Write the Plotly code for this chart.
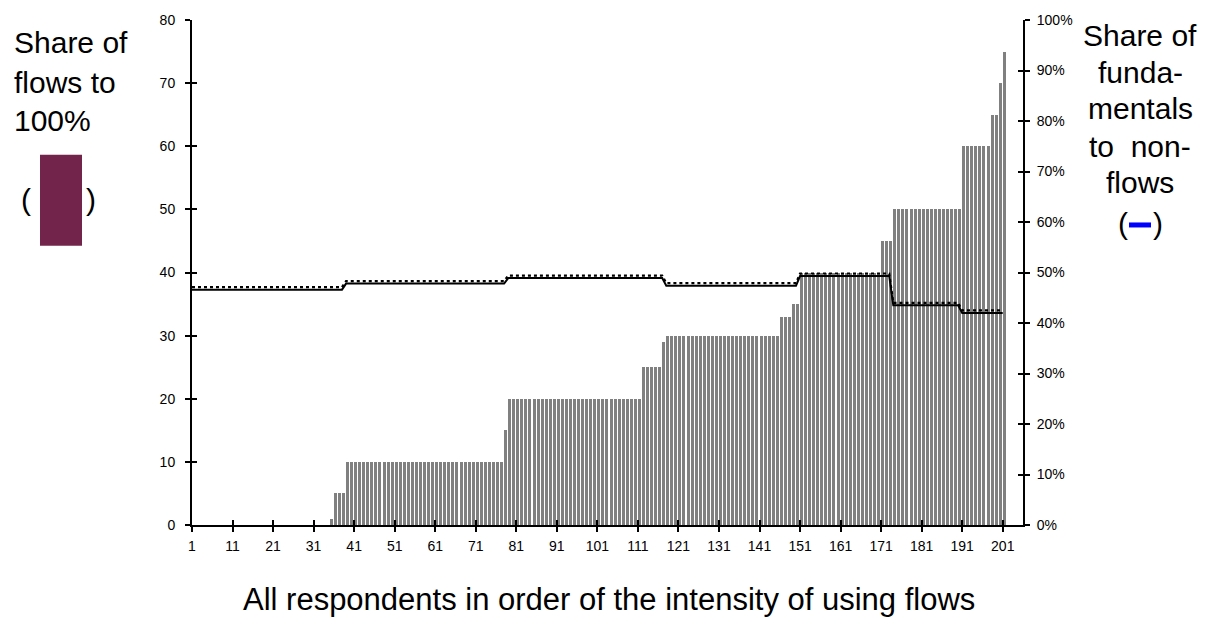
import plotly.graph_objects as go

# ---- data ----
# bar values (share of flows to 100%), run-length encoded: level, number of respondents
bar_levels = [0, 1, 5, 10, 15, 20, 25, 29, 30, 33, 35, 40, 45, 50, 60, 65, 70, 75]
bar_counts = [34, 1, 3, 39, 1, 33, 5, 1, 28, 3, 2, 20, 3, 17, 7, 2, 1, 1]

# line values (share of fundamentals to non-flows), run-length encoded
line_levels = [0.466, 0.478, 0.489, 0.474, 0.493, 0.435, 0.420]
line_dotted_levels = [0.471, 0.483, 0.494, 0.479, 0.498, 0.440, 0.425]
line_counts = [38, 40, 39, 33, 23, 17, 11]

x_tickvals = [1, 11, 21, 31, 41, 51, 61, 71, 81, 91, 101, 111, 121, 131, 141,
              151, 161, 171, 181, 191, 201]
y_tickvals = [0, 10, 20, 30, 40, 50, 60, 70, 80]
y2_tickvals = [0, 0.1, 0.2, 0.3, 0.4, 0.5, 0.6, 0.7, 0.8, 0.9, 1.0]


def expand(levels, counts):
    out = []
    for lv, c in zip(levels, counts):
        out.extend([lv] * c)
    return out


flows = expand(bar_levels, bar_counts)
fund = expand(line_levels, line_counts)
fund_dot = expand(line_dotted_levels, line_counts)
respondents = list(range(1, len(flows) + 1))

W, H = 1211, 622
L, R, T, B = 192, 188, 15, 97
PW = W - L - R
PH = H - T - B


def px(x):
    return (x - L) / PW


def py(y):
    return 1 - (y - T) / PH


FONT = "Liberation Sans, Arial, sans-serif"
X_RANGE = [1, 206]

fig = go.Figure()
fig.add_trace(go.Bar(x=respondents, y=flows, width=0.74, offset=0,
                     marker=dict(color="#808080", line=dict(width=0)),
                     showlegend=False, hoverinfo="x+y"))
fig.add_trace(go.Scatter(x=respondents, y=fund_dot, yaxis="y2", mode="lines",
                         line=dict(color="#000000", width=2.2, dash="dot"),
                         showlegend=False))
fig.add_trace(go.Scatter(x=respondents, y=fund, yaxis="y2", mode="lines",
                         line=dict(color="#000000", width=2),
                         showlegend=False))
# empty traces to activate overlay axes used for crossing tick marks
fig.add_trace(go.Scatter(x=[None], y=[None], xaxis="x2", yaxis="y3",
                         showlegend=False, hoverinfo="skip"))
fig.add_trace(go.Scatter(x=[None], y=[None], xaxis="x2", yaxis="y4",
                         showlegend=False, hoverinfo="skip"))

axis_common = dict(showgrid=False, zeroline=False, tickcolor="black",
                   tickwidth=2, ticklen=5)
TICKF = 14

fig.update_layout(
    width=W, height=H,
    margin=dict(l=L, r=R, t=T, b=B),
    paper_bgcolor="white", plot_bgcolor="white",
    font=dict(family=FONT, color="black", size=TICKF),
    bargap=0,
    xaxis=dict(range=X_RANGE, tickmode="array", tickvals=x_tickvals,
               ticks="outside", showline=True, linecolor="black", linewidth=2,
               ticklabelstandoff=2, tickfont=dict(size=TICKF), **axis_common),
    xaxis2=dict(range=X_RANGE, overlaying="x", anchor="y3", tickmode="array",
                tickvals=x_tickvals, ticks="inside", showticklabels=False,
                showline=False, **axis_common),
    yaxis=dict(range=[0, 80], tickmode="array", tickvals=y_tickvals,
               ticks="outside", showline=True, linecolor="black", linewidth=2,
               ticklabelstandoff=7, tickfont=dict(size=TICKF), **axis_common),
    yaxis2=dict(range=[0, 1], overlaying="y", side="right", anchor="x",
                tickmode="array", tickvals=y2_tickvals, tickformat=".0%",
                ticks="outside", showline=True, linecolor="black", linewidth=2,
                ticklabelstandoff=4, tickfont=dict(size=TICKF), **axis_common),
    yaxis3=dict(range=[0, 80], overlaying="y", anchor="x2", tickmode="array",
                tickvals=y_tickvals, ticks="inside", showticklabels=False,
                showline=False, **axis_common),
    yaxis4=dict(range=[0, 1], overlaying="y", side="right", anchor="x2",
                tickmode="array", tickvals=y2_tickvals, ticks="inside",
                showticklabels=False, showline=False, **axis_common),
)

ann = []
TITLE = 30
# left block
for txt, yc in [("Share of", 38), ("flows to", 78), ("100%", 117)]:
    ann.append(dict(text=txt, x=px(12), y=py(yc), xref="paper", yref="paper",
                    xanchor="left", yanchor="middle", showarrow=False,
                    font=dict(size=TITLE, family=FONT)))
ann.append(dict(text="(", x=px(26), y=py(196), xref="paper", yref="paper",
                xanchor="center", yanchor="middle", showarrow=False,
                font=dict(size=TITLE, family=FONT)))
ann.append(dict(text=")", x=px(91), y=py(196), xref="paper", yref="paper",
                xanchor="center", yanchor="middle", showarrow=False,
                font=dict(size=TITLE, family=FONT)))
# right block
for txt, yc in [("Share of", 31), ("funda-", 68), ("mentals", 104),
                ("to  non-", 143), ("flows", 179)]:
    ann.append(dict(text=txt, x=px(1140), y=py(yc), xref="paper", yref="paper",
                    xanchor="center", yanchor="middle", showarrow=False,
                    font=dict(size=TITLE, family=FONT)))
ann.append(dict(text="(", x=px(1123), y=py(221), xref="paper", yref="paper",
                xanchor="center", yanchor="middle", showarrow=False,
                font=dict(size=TITLE, family=FONT)))
ann.append(dict(text=")", x=px(1158), y=py(221), xref="paper", yref="paper",
                xanchor="center", yanchor="middle", showarrow=False,
                font=dict(size=TITLE, family=FONT)))
# x-axis title
ann.append(dict(text="All respondents in order of the intensity of using flows",
                x=px(609), y=py(600), xref="paper", yref="paper",
                xanchor="center", yanchor="middle", showarrow=False,
                font=dict(size=31, family=FONT)))

shapes = [
    dict(type="rect", xref="paper", yref="paper", x0=px(40), x1=px(82),
         y0=py(243), y1=py(151), fillcolor="#72244a", line=dict(width=0),
         layer="above"),
    dict(type="line", xref="paper", yref="paper", x0=px(1129), x1=px(1151),
         y0=py(222), y1=py(222), line=dict(color="#0000ff", width=5),
         layer="above"),
]
fig.update_layout(annotations=ann, shapes=shapes)

fig.write_html("out.html",
               config={"displayModeBar": False},
               post_script="document.body.style.margin='0';"
                           "document.body.style.overflow='hidden';")
